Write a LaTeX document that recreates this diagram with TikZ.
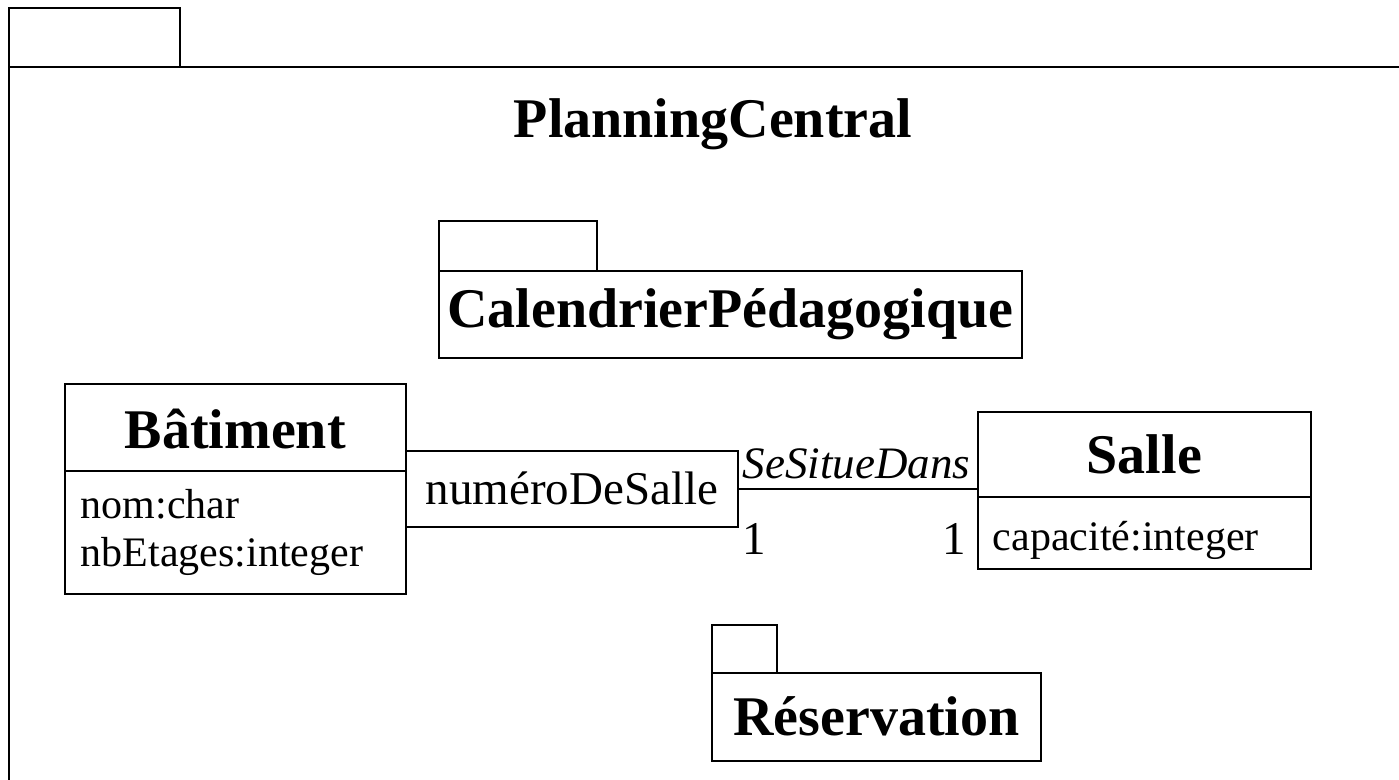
\documentclass[tikz,border=0pt]{standalone}
\usepackage{fontspec}
\setmainfont{Liberation Serif}
\begin{document}
\begin{tikzpicture}[x=1pt,y=-1pt,
  line width=1.6pt,
  box/.style={draw, rectangle, inner sep=0pt, anchor=north west},
  bigbold/.style={font=\fontsize{56}{60}\selectfont\bfseries},
  attr/.style={font=\fontsize{42}{48}\selectfont},
  qualtxt/.style={font=\fontsize{47}{50}\selectfont},
  mult/.style={font=\fontsize{47}{50}\selectfont, inner sep=0pt},
  role/.style={font=\fontsize{45}{48}\selectfont\itshape, inner sep=0pt}
]
\useasboundingbox (0,0) rectangle (1399,779);
\clip (0,0) rectangle (1399,779);
% outer package
\draw (9,8) rectangle (180,67);
\draw (1405,67) -- (9,67) -- (9,790);
\node[bigbold] (title) at (713,124) {PlanningCentral};
% CalendrierPedagogique package
\node[box, minimum width=158, minimum height=50] (caltab) at (438,220) {};
\node[box, minimum width=583, minimum height=87, bigbold] (cal) at (438,270) {CalendrierPédagogique};
% Reservation package
\node[box, minimum width=65, minimum height=48] (restab) at (711,624) {};
\node[box, minimum width=329, minimum height=88, bigbold] (res) at (711,672) {Réservation};
% Batiment class
\node[box, minimum width=341, minimum height=87, bigbold, text height=42pt] (batH) at (64,383) {Bâtiment};
\node[box, minimum width=341, minimum height=123, attr, align=left, text width=309, inner xsep=16pt] (batA) at (64,470) {nom:char\\nbEtages:integer};
% qualifier
\node[box, minimum width=332, minimum height=76, qualtxt] (qual) at (405,450) {numéroDeSalle};
% Salle class
\node[box, minimum width=333, minimum height=85, bigbold] (salleH) at (977,411) {Salle};
\node[box, minimum width=333, minimum height=72, attr, align=left, text width=303, inner xsep=15pt, text height=44pt] (salleA) at (977,496) {capacité:integer};
% association
\coordinate (lend) at (qual.east);
\coordinate (rend) at (qual.east -| salleH.west);
\draw (qual.east) -- (rend);
\node[role, anchor=south east] (rolename) at ([xshift=-6pt,yshift=9pt]rend) {SeSitueDans};
\node[mult, anchor=north west] (m1) at ([xshift=3pt,yshift=-34pt]lend) {1};
\node[mult, anchor=north east] (m2) at ([xshift=-10pt,yshift=-34pt]rend) {1};
\end{tikzpicture}
\end{document}
